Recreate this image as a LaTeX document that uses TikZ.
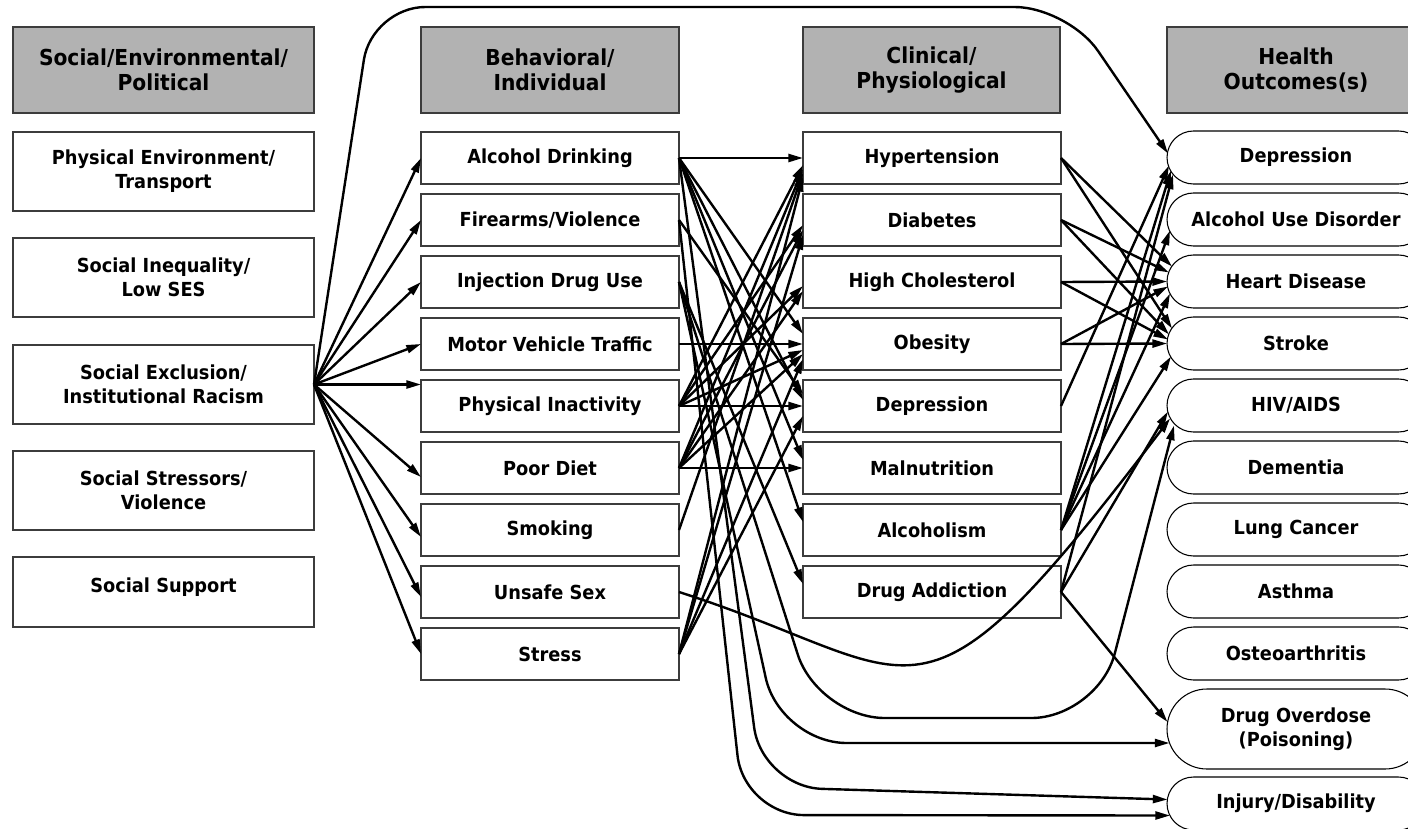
\documentclass[tikz,border=0pt]{standalone}
\usepackage{fontspec}
\setmainfont{DejaVu Sans}[FakeStretch=0.92]
\usetikzlibrary{arrows.meta,calc,shapes.misc}
\definecolor{hdrgray}{HTML}{B2B2B2}
\definecolor{boxline}{HTML}{3C3C3C}
\newcommand\boxfont{\bfseries\fontsize{14.5pt}{18pt}\selectfont}
\newcommand\hdrfont{\bfseries\fontsize{16.5pt}{18.75pt}\selectfont}
\begin{document}
\begin{tikzpicture}[x=0.75pt,y=-0.75pt,
  hdr/.style={draw=boxline, fill=hdrgray, line width=1.2pt, minimum height=64.5pt,
    inner sep=0pt, outer sep=0pt, anchor=north west, align=center, font=\hdrfont},
  sbox/.style={draw=boxline, line width=1.2pt, minimum width=225.75pt, minimum height=59.25pt,
    inner sep=0pt, outer sep=0pt, anchor=north west, align=center, font=\boxfont},
  bbox/.style={draw=boxline, line width=1.2pt, minimum width=193.5pt, minimum height=39pt,
    inner sep=0pt, outer sep=0pt, anchor=north west, align=center, font=\boxfont},
  obox/.style={rounded rectangle, draw=black, line width=0.8pt, minimum width=193.5pt,
    minimum height=39.75pt, inner sep=0pt, outer sep=0pt, anchor=west, align=center, font=\boxfont},
  conn/.style={line width=1.8pt, -{Triangle[length=11pt,width=6pt]}}]
\useasboundingbox (0,0) rectangle (1408,828);
\fill[white] (0,0) rectangle (1408,828);

% column headers
\node[hdr, minimum width=225.75pt] (h1) at (13,27) {Social/Environmental/\\Political};
\node[hdr, minimum width=193.5pt] (h2) at (421,27) {Behavioral/\\Individual};
\node[hdr, minimum width=192.75pt] (h3) at (803,27) {Clinical/\\Physiological};
\node[hdr, minimum width=193.5pt] (h4) at (1167,27) {Health\\Outcomes(s)};

% social / environmental / political
\node[sbox] (pe) at (13,132) {Physical Environment/\\Transport};
\node[sbox] (si) at (13,238) {Social Inequality/\\Low SES};
\node[sbox] (se) at (13,345) {Social Exclusion/\\Institutional Racism};
\node[sbox] (ss) at (13,451) {Social Stressors/\\Violence};
\node[sbox, minimum height=52.5pt, text height=10pt, text depth=10pt] (sp) at (13,557) {Social Support};

% behavioral / individual
\node[bbox] (ad)  at (421,132) {Alcohol Drinking};
\node[bbox] (fv)  at (421,194) {Firearms/Violence};
\node[bbox] (idu) at (421,256) {Injection Drug Use};
\node[bbox] (mvt) at (421,318) {Motor Vehicle Traffic};
\node[bbox] (pi)  at (421,380) {Physical Inactivity};
\node[bbox] (pd)  at (421,442) {Poor Diet};
\node[bbox] (sm)  at (421,504) {Smoking};
\node[bbox] (us)  at (421,566) {Unsafe Sex};
\node[bbox] (st)  at (421,628) {Stress};

% clinical / physiological
\node[bbox] (hyp)   at (803,132) {Hypertension};
\node[bbox] (diab)  at (803,194) {Diabetes};
\node[bbox] (hchol) at (803,256) {High Cholesterol};
\node[bbox] (obes)  at (803,318) {Obesity};
\node[bbox] (cdep)  at (803,380) {Depression};
\node[bbox] (maln)  at (803,442) {Malnutrition};
\node[bbox] (alcm)  at (803,504) {Alcoholism};
\node[bbox] (dadd)  at (803,566) {Drug Addiction};

% health outcomes
\node[obox] (hdep) at (1167,157.5) {Depression};
\node[obox] (aud)  at (1167,219.5) {Alcohol Use Disorder};
\node[obox] (hd)   at (1167,281.5) {Heart Disease};
\node[obox] (stk)  at (1167,343.5) {Stroke};
\node[obox] (hiv)  at (1167,405.5) {HIV/AIDS};
\node[obox] (dem)  at (1167,467.5) {Dementia};
\node[obox] (lc)   at (1167,529.5) {Lung Cancer};
\node[obox] (ast)  at (1167,591.5) {Asthma};
\node[obox] (oa)   at (1167,653.5) {Osteoarthritis};
\node[obox, minimum height=60pt] (dod) at (1167,729) {Drug Overdose\\(Poisoning)};
\node[obox] (inj)  at (1167,803.5) {Injury/Disability};

% social exclusion fans out to every behaviour
\foreach \t in {ad,fv,idu,mvt} \draw[conn] (se.east) -- (\t.west);
\draw[conn] (se.east) -- (se.east -| pi.west);
\draw[conn] (se.east) -- ($(pd.west)+(0,9)$);
\draw[conn] (se.east) -- ($(sm.west)+(0,7)$);
\draw[conn] (se.east) -- ($(us.west)+(0,5)$);
\draw[conn] (se.east) -- (st.west);
% long path over the top straight to depression
\draw[conn, rounded corners=40pt] (se.east) -- (372,7) -- (1068,7) -- ($(hdep.west)+(1,-4)$);

% behaviour -> clinical
\draw[conn] (ad.east) -- (hyp.west);
\draw[conn] (ad.east) -- ($(obes.west)+(0,-10)$);
\draw[conn] (ad.east) -- ($(cdep.west)+(0,-6)$);
\draw[conn] (ad.east) -- ($(maln.west)+(0,-8)$);
\draw[conn] (ad.east) -- ($(alcm.west)+(0,-8)$);
\draw[conn] (fv.east) -- ($(cdep.west)+(0,-12)$);
\draw[conn] (idu.east) -- ($(dadd.west)+(0,-8)$);
\draw[conn] (mvt.east) -- (obes.west);
\draw[conn] (pi.east) -- ($(hyp.west)+(0,7)$);
\draw[conn] (pi.east) -- ($(diab.west)+(0,5)$);
\draw[conn] (pi.east) -- ($(hchol.west)+(0,4)$);
\draw[conn] (pi.east) -- ($(obes.west)+(0,6)$);
\draw[conn] (pi.east) -- (cdep.west);
\draw[conn] (pd.east) -- ($(hyp.west)+(0,11)$);
\draw[conn] (pd.east) -- ($(diab.west)+(0,10)$);
\draw[conn] (pd.east) -- ($(hchol.west)+(0,9)$);
\draw[conn] (pd.east) -- ($(obes.west)+(0,10)$);
\draw[conn] (pd.east) -- (maln.west);
\draw[conn] (sm.east) -- ($(hyp.west)+(0,15)$);
\draw[conn] (st.east) -- ($(hyp.west)+(0,19)$);
\draw[conn] (st.east) -- ($(diab.west)+(0,15)$);
\draw[conn] (st.east) -- ($(obes.west)+(0,15)$);
\draw[conn] (st.east) -- ($(cdep.west)+(0,10)$);

% clinical -> health outcomes
\draw[conn] (hyp.east) -- ($(hd.west)+(5,-15)$);
\draw[conn] (hyp.east) -- ($(stk.west)+(5,-15)$);
\draw[conn] (diab.east) -- ($(hd.west)+(2,-9)$);
\draw[conn] (diab.east) -- ($(stk.west)+(2,-9)$);
\draw[conn] (hchol.east) -- (hd.west);
\draw[conn] (hchol.east) -- ($(stk.west)+(1,-4)$);
\draw[conn] (obes.east) -- ($(hd.west)+(1,5)$);
\draw[conn] (obes.east) -- (stk.west);
\draw[conn] (cdep.east) -- ($(hdep.west)+(2,8)$);
\draw[conn] (alcm.east) -- ($(hdep.west)+(4,13)$);
\draw[conn] (alcm.east) -- ($(aud.west)+(3,11)$);
\draw[conn] (alcm.east) -- ($(hd.west)+(3,12)$);
\draw[conn] (alcm.east) -- ($(stk.west)+(4,13)$);
\draw[conn] (dadd.east) -- ($(hdep.west)+(6,17)$);
\draw[conn] (dadd.east) -- ($(hiv.west)+(1,6)$);
\draw[conn] (dadd.east) -- ($(dod.west)+(0.5,-7)$);

% behaviour -> health outcomes, routed below the clinical column
\draw[conn] (us.east) .. controls (929,672) and (912,758) .. ($(hiv.west)+(3,13)$);
\draw[conn, rounded corners=50pt] (idu.east) -- (818,718) -- (1098,718) -- ($(hiv.west)+(7,20)$);
\draw[conn, rounded corners=50pt] (idu.east) -- (780,743) -- ($(dod.west)+(2.5,14)$);
\draw[conn, rounded corners=45pt] (ad.east) -- (762,787) -- ($(inj.west)+(0.5,-4)$);
\draw[conn, rounded corners=45pt] (fv.east) -- (744,815) -- ($(inj.west)+(3,12)$);
\end{tikzpicture}
\end{document}
